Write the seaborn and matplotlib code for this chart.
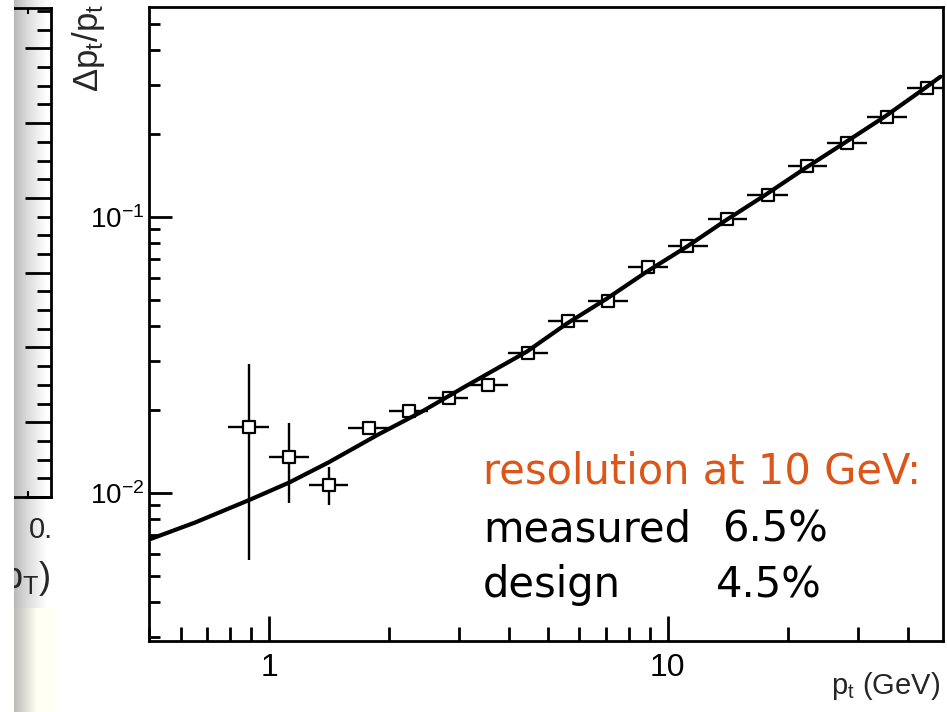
import numpy as np
import pandas as pd
import matplotlib
matplotlib.use("Agg")
import matplotlib.pyplot as plt
import seaborn as sns
from matplotlib.ticker import FixedLocator, LogLocator, NullFormatter, MultipleLocator
from matplotlib.patches import Rectangle

# ---------------- data ----------------
pt_center = [0.89, 1.12, 1.41, 1.78, 2.24, 2.82, 3.55, 4.47, 5.62, 7.08,
             8.91, 11.2, 14.1, 17.8, 22.4, 28.2, 35.5, 44.7]
pt_low = [0.79, 1.0, 1.26, 1.58, 2.0, 2.51, 3.16, 3.98, 5.01, 6.31,
          7.94, 10.0, 12.6, 15.8, 20.0, 25.1, 31.6, 39.8]
pt_high = [1.0, 1.26, 1.58, 2.0, 2.51, 3.16, 3.98, 5.01, 6.31, 7.94,
           10.0, 12.6, 15.8, 20.0, 25.1, 31.6, 39.8, 50.1]
res = [0.0173, 0.0135, 0.0107, 0.0172, 0.0197, 0.0221, 0.0246, 0.0321, 0.0417, 0.0496,
       0.0659, 0.0785, 0.0984, 0.120, 0.152, 0.185, 0.230, 0.293]
res_low = [0.0057, 0.0092, 0.0090, 0.0172, 0.0197, 0.0221, 0.0246, 0.0321, 0.0417, 0.0496,
           0.0659, 0.0785, 0.0984, 0.120, 0.152, 0.185, 0.230, 0.293]
res_high = [0.0293, 0.0179, 0.0124, 0.0172, 0.0197, 0.0221, 0.0246, 0.0321, 0.0417, 0.0496,
            0.0659, 0.0785, 0.0984, 0.120, 0.152, 0.185, 0.230, 0.293]

fit_pt = [0.50, 0.524, 0.652, 0.896, 1.122, 1.406, 1.876, 2.417, 3.099, 4.43, 5.58,
          7.03, 8.86, 11.16, 14.06, 17.6, 22.2, 27.8, 35.0, 43.6, 48.3]
fit_res = [0.00676, 0.00693, 0.00779, 0.00943, 0.01087, 0.01284, 0.01622, 0.01966,
           0.02421, 0.03242, 0.04096, 0.05044, 0.06321, 0.07785, 0.09752, 0.1201,
           0.1504, 0.1854, 0.2303, 0.2885, 0.3215]

xtick_values = [1, 10]
xtick_labels = ["1", "10"]
ytick_values = [0.01, 0.1]
ytick_labels = [r"$\mathregular{10^{-2}}$", r"$\mathregular{10^{-1}}$"]

title_line = "resolution at 10 GeV:"
row_names = ["measured", "design"]
row_values = ["6.5%", "4.5%"]

points = pd.DataFrame({"pt": pt_center, "res": res})
fit = pd.DataFrame({"pt": fit_pt, "res": fit_res})

# ---------------- style ----------------
sns.set_theme(style="ticks")
plt.rcParams["font.family"] = ["Liberation Sans", "DejaVu Sans"]
plt.rcParams["axes.edgecolor"] = "black"
plt.rcParams["xtick.color"] = "black"
plt.rcParams["ytick.color"] = "black"

W, H = 947, 712
fig = plt.figure(figsize=(W / 100, H / 100), dpi=100)
fig.patch.set_facecolor("white")

# ---------------- left-side remnant of a neighbouring panel ----------------
bg = fig.add_axes([0, 0, 60 / W, 1], zorder=-5)
cols = np.arange(60)
g = np.clip((cols - 14) / 32.0, 0, 1)
gray = 0.72 + 0.28 * g ** 0.8
gray[cols < 14] = 1.0
img = np.ones((H, 60, 3)) * gray[None, :, None]
bg.imshow(img, aspect="auto", extent=[0, 60, H, 0], interpolation="bilinear")
bg.set_xlim(0, 60)
bg.set_ylim(H, 0)
bg.axis("off")

axL = fig.add_axes([-100 / W, (H - 497) / H, 151 / W, 489 / H], facecolor="none")
axL.set_xlim(0, 151)
axL.set_ylim(0, 6.54)
axL.spines["left"].set_visible(False)
for s in ["right", "top", "bottom"]:
    axL.spines[s].set_linewidth(2)
    axL.spines[s].set_color("black")
axL.yaxis.set_major_locator(MultipleLocator(1))
axL.yaxis.set_minor_locator(MultipleLocator(0.25))
axL.tick_params(axis="y", which="both", left=False, right=True, labelleft=False,
                labelright=False, direction="in", width=2)
axL.tick_params(axis="y", which="major", length=18.7)
axL.tick_params(axis="y", which="minor", length=10)
axL.xaxis.set_major_locator(FixedLocator([128]))
axL.tick_params(axis="x", which="major", top=True, bottom=True, labeltop=False,
                labelbottom=False, direction="in", length=4, width=1.5)
axL.xaxis.set_minor_locator(FixedLocator([]))

cream = fig.add_axes([0, 0, 56 / W, (H - 608) / H], zorder=5)
c2 = np.arange(56)
t = np.clip((c2 - 14) / 22.0, 0, 1)
base = np.array([1.0, 1.0, 0.96])
cimg = np.ones((10, 56, 3))
for i, cc in enumerate(c2):
    if cc < 14:
        cimg[:, i, :] = 1.0
    else:
        gv = 0.74 + 0.26 * t[i]
        cimg[:, i, :] = base * gv
cream.imshow(cimg, aspect="auto", extent=[0, 56, 0, 1], interpolation="bilinear")
cream.axis("off")

fig.add_artist(Rectangle((0, 0), 13.5 / W, 1, transform=fig.transFigure,
                         facecolor="white", edgecolor="none", zorder=6))

fig.text(29 / W, 1 - 538 / H, "0.", fontsize=21, ha="left", va="baseline", zorder=7)
fig.text(2 / W, 1 - 588 / H, r"$\mathregular{p_T)}$", fontsize=26, ha="left",
         va="baseline", zorder=4)

# ---------------- main panel ----------------
ax = fig.add_axes([149 / W, (H - 641) / H, 794 / W, 634 / H])
ax.set_xscale("log")
ax.set_yscale("log")

xerr = [np.array(pt_center) - np.array(pt_low), np.array(pt_high) - np.array(pt_center)]
yerr = [np.array(res) - np.array(res_low), np.array(res_high) - np.array(res)]
ax.errorbar(pt_center, res, xerr=xerr, yerr=yerr, fmt="none", ecolor="black",
            elinewidth=1.7, capsize=0, zorder=2)
sns.scatterplot(data=points, x="pt", y="res", marker="s", s=78, facecolor="white",
                edgecolor="black", linewidth=1.6, ax=ax, zorder=3, legend=False)
sns.lineplot(data=fit, x="pt", y="res", color="black", linewidth=3.0, ax=ax,
             zorder=4, sort=False, estimator=None, legend=False)

ax.set_xlim(0.5, 49)
ax.set_ylim(0.0029, 0.575)
ax.set_xlabel("")
ax.set_ylabel("")

ax.xaxis.set_major_locator(FixedLocator(xtick_values))
ax.set_xticklabels(xtick_labels)
ax.xaxis.set_minor_locator(LogLocator(base=10, subs=np.arange(2, 10)))
ax.xaxis.set_minor_formatter(NullFormatter())
ax.yaxis.set_major_locator(FixedLocator(ytick_values))
ax.set_yticklabels(ytick_labels)
ax.yaxis.set_minor_locator(LogLocator(base=10, subs=np.arange(2, 10)))
ax.yaxis.set_minor_formatter(NullFormatter())

ax.tick_params(axis="both", which="both", direction="in", top=False, right=False, width=2)
ax.tick_params(axis="x", which="major", length=18, labelsize=23, pad=9)
ax.tick_params(axis="x", which="minor", length=10)
ax.tick_params(axis="y", which="major", length=16.5, labelsize=20, pad=3)
ax.tick_params(axis="y", which="minor", length=8)
for s in ax.spines.values():
    s.set_linewidth(2)
    s.set_color("black")

fig.text(940 / W, 1 - 694 / H, r"$\mathregular{p_t}$ (GeV)", fontsize=21,
         ha="right", va="baseline")
fig.text(88 / W, 1 - 4 / H, r"$\mathregular{\Delta p_t/p_t}$", fontsize=25,
         rotation=90, ha="center", va="top")

# ---------------- annotation ----------------
afont = ["DejaVu Sans"]
fs = 30
fig.text(483 / W, 1 - 483 / H, title_line, fontsize=fs, color="#DC561A",
         family=afont, ha="left", va="baseline")
fig.text(483 / W, 1 - 542 / H, row_names[0], fontsize=fs, color="black",
         family=afont, ha="left", va="baseline")
fig.text(722 / W, 1 - 542 / H, row_values[0], fontsize=fs, color="black",
         family=afont, ha="left", va="baseline")
fig.text(483 / W, 1 - 597 / H, row_names[1], fontsize=fs, color="black",
         family=afont, ha="left", va="baseline")
fig.text(716 / W, 1 - 597 / H, row_values[1], fontsize=fs, color="black",
         family=afont, ha="left", va="baseline")

fig.savefig("out.png", dpi=100, facecolor="white")
